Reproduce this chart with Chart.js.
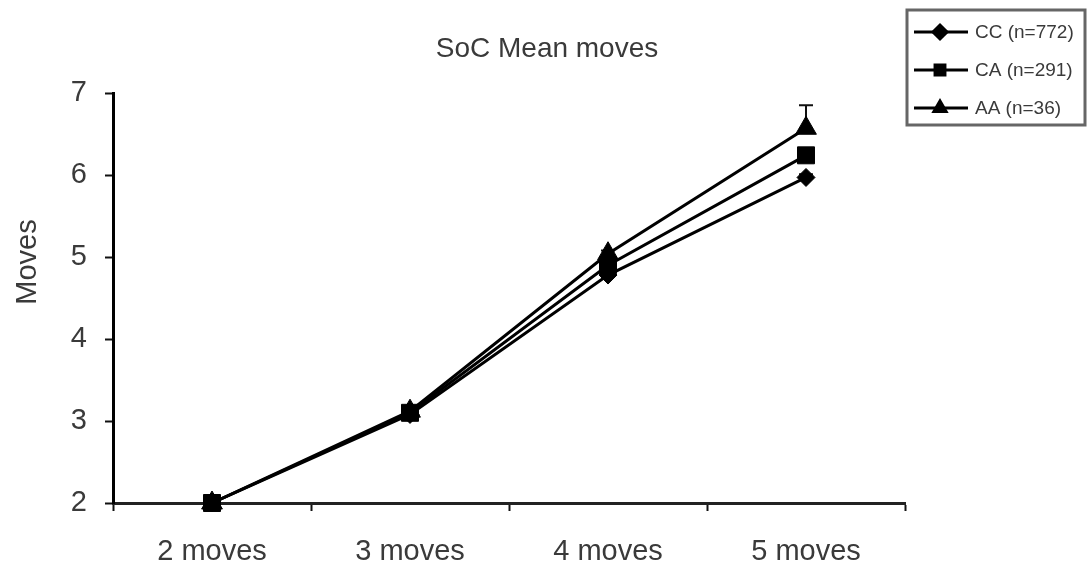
<!DOCTYPE html>
<html>
<head>
<meta charset="utf-8">
<style>
  html, body { margin: 0; padding: 0; background: #ffffff; }
  #wrap { position: relative; width: 1088px; height: 571px; }
</style>
<script src="https://cdn.jsdelivr.net/npm/chart.js@4.4.1/dist/chart.umd.min.js"></script>
</head>
<body>
<div id="wrap"><canvas id="chart" width="1088" height="571"></canvas></div>
<script>
// Mean number of moves per problem level, by genotype group
const categories = ['2 moves', '3 moves', '4 moves', '5 moves'];
const seriesLabels = ['CC (n=772)', 'CA (n=291)', 'AA (n=36)'];
const ccMeans = [2.0, 3.08, 4.78, 5.97];
const caMeans = [2.0, 3.10, 4.90, 6.24];
const aaMeans = [2.0, 3.12, 5.04, 6.57];
const ccErr = [0, 0.01, 0.02, 0.04];
const caErr = [0, 0.02, 0.03, 0.07];
const aaErr = [0, 0.03, 0.04, 0.28];
const yTicks = [2, 3, 4, 5, 6, 7];
const chartTitle = 'SoC Mean moves';
const yTitle = 'Moves';

const FONT = '"Liberation Sans", Arial, sans-serif';
const TEXT = '#3a3a3a';

const pointStyles = ['rectRot', 'rect', 'triangle'];
const pointRadii = [9, 12, 12];

function makeSet(i, data, err) {
  return {
    label: seriesLabels[i],
    data: data,
    errorPlus: err,
    borderColor: '#000',
    backgroundColor: '#000',
    borderWidth: 3,
    pointStyle: pointStyles[i],
    pointRadius: pointRadii[i],
    pointHoverRadius: pointRadii[i],
    pointBackgroundColor: '#000',
    pointBorderColor: '#000',
    pointBorderWidth: 1,
    tension: 0,
    clip: false
  };
}

// Upper error bars drawn from the y scale
const errorBars = {
  id: 'errorBars',
  beforeDatasetsDraw(chart) {
    const ctx = chart.ctx;
    const y = chart.scales.y;
    chart.data.datasets.forEach((ds, di) => {
      const meta = chart.getDatasetMeta(di);
      meta.data.forEach((pt, i) => {
        const e = ds.errorPlus[i];
        if (!e) return;
        const top = y.getPixelForValue(ds.data[i] + e);
        ctx.save();
        ctx.strokeStyle = '#111';
        ctx.lineWidth = 2;
        ctx.beginPath();
        ctx.moveTo(pt.x, pt.y);
        ctx.lineTo(pt.x, top);
        ctx.moveTo(pt.x - 7, top);
        ctx.lineTo(pt.x + 7, top);
        ctx.stroke();
        ctx.restore();
      });
    });
  }
};

// Title, y-axis title and boxed legend
const decorations = {
  id: 'decorations',
  afterDraw(chart) {
    const ctx = chart.ctx;
    ctx.save();
    ctx.fillStyle = TEXT;
    ctx.textAlign = 'center';
    ctx.textBaseline = 'middle';
    ctx.font = '28px ' + FONT;
    ctx.fillText(chartTitle, 547, 49);

    ctx.save();
    ctx.translate(28, 262);
    ctx.rotate(-Math.PI / 2);
    ctx.font = '29px ' + FONT;
    ctx.fillText(yTitle, 0, 0);
    ctx.restore();

    // legend box
    ctx.strokeStyle = '#666';
    ctx.lineWidth = 3;
    ctx.strokeRect(907, 10, 178, 115);

    const rows = [32, 70, 108];
    chart.data.datasets.forEach((ds, i) => {
      const yy = rows[i];
      ctx.strokeStyle = '#000';
      ctx.lineWidth = 3;
      ctx.beginPath();
      ctx.moveTo(914, yy);
      ctx.lineTo(968, yy);
      ctx.stroke();
      ctx.fillStyle = '#000';
      Chart.helpers.drawPoint(ctx, {
        pointStyle: ds.pointStyle,
        rotation: 0,
        borderWidth: 1,
        radius: 7
      }, 940, yy);
      ctx.fillStyle = TEXT;
      ctx.textAlign = 'left';
      ctx.font = '19px ' + FONT;
      ctx.fillText(ds.label, 975, yy + 1);
    });
    ctx.restore();
  }
};

new Chart(document.getElementById('chart'), {
  type: 'line',
  data: {
    labels: categories,
    datasets: [
      makeSet(0, ccMeans, ccErr),
      makeSet(1, caMeans, caErr),
      makeSet(2, aaMeans, aaErr)
    ]
  },
  plugins: [errorBars, decorations],
  options: {
    responsive: false,
    animation: false,
    devicePixelRatio: 1,
    layout: { padding: { top: 93, right: 183, bottom: 0, left: 0 } },
    plugins: {
      legend: { display: false },
      title: { display: false },
      tooltip: { enabled: false }
    },
    scales: {
      x: {
        type: 'category',
        offset: true,
        grid: {
          offset: true,
          drawOnChartArea: false,
          drawTicks: true,
          tickLength: 8,
          tickWidth: 2,
          tickColor: '#111'
        },
        border: { display: true, color: '#222', width: 3 },
        ticks: {
          color: TEXT,
          font: { family: FONT, size: 29 },
          padding: 24,
          maxRotation: 0,
          autoSkip: false
        },
        afterFit(scale) { scale.height = 68; }
      },
      y: {
        min: 2,
        max: 7,
        afterBuildTicks(scale) { scale.ticks = yTicks.map(v => ({ value: v })); },
        grid: {
          drawOnChartArea: false,
          drawTicks: true,
          tickLength: 8,
          tickWidth: 2,
          tickColor: '#111'
        },
        border: { display: true, color: '#000', width: 3 },
        ticks: {
          color: TEXT,
          font: { family: FONT, size: 29 },
          padding: 18
        },
        afterFit(scale) { scale.width = 113; }
      }
    }
  }
});
</script>
</body>
</html>
